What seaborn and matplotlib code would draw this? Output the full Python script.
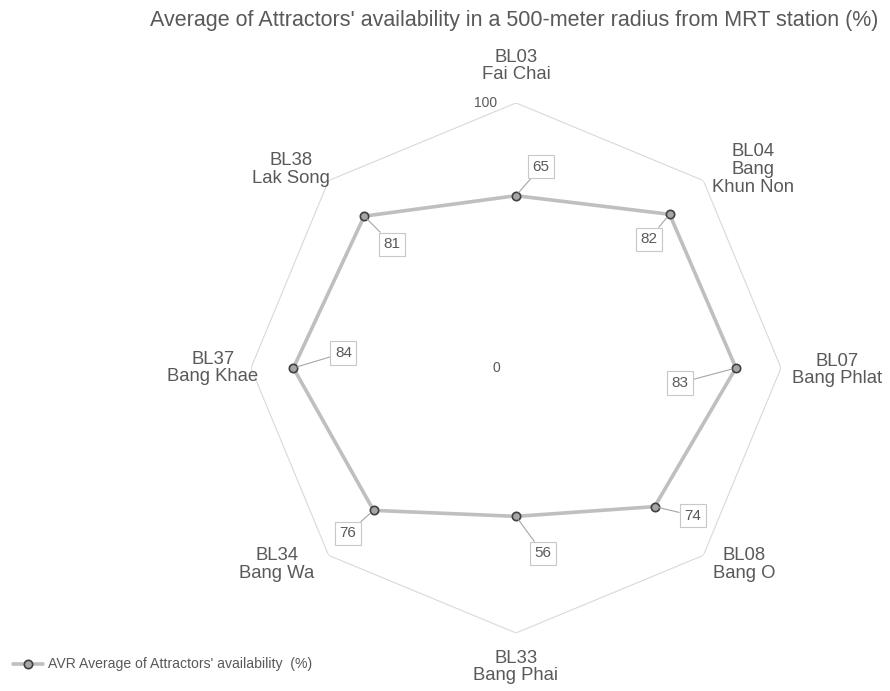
import numpy as np
import pandas as pd
import seaborn as sns
import matplotlib.pyplot as plt

# data
stations = ["BL03\nFai Chai", "BL04\nBang\nKhun Non", "BL07\nBang Phlat", "BL08\nBang O",
            "BL33\nBang Phai", "BL34\nBang Wa", "BL37\nBang Khae", "BL38\nLak Song"]
avr = [65, 82, 83, 74, 56, 76, 84, 81]
series_name = "AVR Average of Attractors' availability  (%)"

# layout offsets (pixels) for labels
label_off = [(0, 37), (50, 11), (56, -2), (41, -9), (0, -34), (-52, -9), (-38, 0), (-38, 11)]
value_off = [(25, 29), (-21, -25), (-56, -15), (38, -9), (27, -37), (-26, -23), (50, 15), (28, -28)]

sns.set_theme(style="white")
plt.rcParams['font.family'] = ['Liberation Sans', 'DejaVu Sans']
txt = "#595959"

n = len(stations)
angles = np.linspace(0, 2 * np.pi, n, endpoint=False)
closed = np.append(angles, 2 * np.pi)
df = pd.DataFrame({"angle": closed, "value": avr + [avr[0]]})

fig = plt.figure(figsize=(8.9, 6.91), dpi=100)
ax = fig.add_axes([0.282, 0.084, 0.5955, 0.767], projection="polar")
ax.set_theta_zero_location("N")
ax.set_theta_direction(-1)
ax.set_ylim(0, 100)
ax.grid(False)
ax.spines["polar"].set_visible(False)
ax.set_xticks([])
ax.set_yticks([])

# outer octagon grid
ax.plot(closed, [100] * (n + 1), color="#d9d9d9", lw=0.8, zorder=1)

sns.lineplot(data=df, x="angle", y="value", sort=False, estimator=None, ax=ax,
             color="#bfbfbf", lw=2.6, marker="o", markersize=6, markerfacecolor="#a6a6a6",
             markeredgecolor="#404040", markeredgewidth=1.2, label=series_name, zorder=3)
# closing point duplicates the first marker; keep only one marker visible
ax.lines[-1].set_markevery(list(range(n)))

# axis value labels
ax.annotate("100", xy=(0, 100), xytext=(-30, 0), textcoords="offset pixels",
            ha="center", va="center", fontsize=10, color=txt)
ax.annotate("0", xy=(0, 0), xytext=(-20, 0), textcoords="offset pixels",
            ha="center", va="center", fontsize=10, color=txt)

# category labels
for a, s, off in zip(angles, stations, label_off):
    ax.annotate(s, xy=(a, 100), xytext=off, textcoords="offset pixels",
                ha="center", va="center", fontsize=13.3, color=txt,
                linespacing=1.05, annotation_clip=False)

# data labels
for a, v, off in zip(angles, avr, value_off):
    ax.annotate(str(v), xy=(a, v), xytext=off, textcoords="offset pixels",
                ha="center", va="center", fontsize=11, color=txt,
                bbox=dict(boxstyle="square,pad=0.3", fc="white", ec="#c8c8c8", lw=0.8),
                arrowprops=dict(arrowstyle="-", color="#a6a6a6", lw=0.8,
                                shrinkA=0, shrinkB=3), zorder=4)

fig.text(0.5775, 0.971, "Average of Attractors' availability in a 500-meter radius from MRT station (%)",
         ha="center", va="center", fontsize=15.5, color=txt)

leg = ax.legend(loc="lower left", bbox_to_anchor=(0.0, 0.01), bbox_transform=fig.transFigure,
                frameon=False, fontsize=10.1, handlelength=2.2, handletextpad=0.3)
for t in leg.get_texts():
    t.set_color(txt)

fig.savefig("out.png", dpi=100)
